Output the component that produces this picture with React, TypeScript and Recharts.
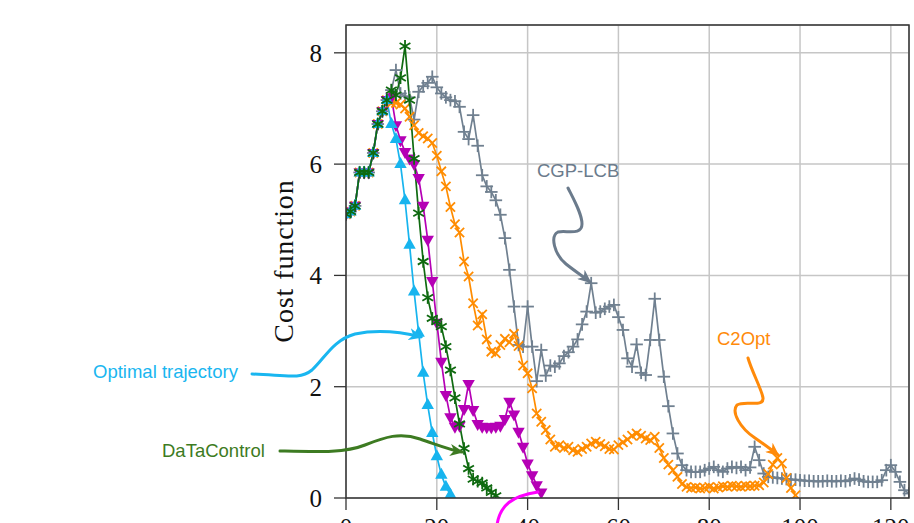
import { LineChart, Line, XAxis, YAxis, CartesianGrid } from "recharts";

const W = 914;
const H = 523;
const PLOT = { left: 346, top: 25, right: 909, bottom: 498 };
const X_MAX = 124;
const Y_MAX = 8.5;

const xTicks = [0, 20, 40, 60, 80, 100, 120];
const yTicks = [0, 2, 4, 6, 8];

// all controllers share the same first steps
const warmup = [5.1, 5.15, 5.25, 5.85, 5.85, 5.85, 6.2, 6.72, 6.95, 7.15];

const optimalTail = [6.72, 6.45, 6.0, 5.35, 4.55, 3.71, 2.97, 2.25, 1.67, 1.17, 0.75, 0.42, 0.2, 0.06];

const dataControlTail = [
  7.33, 7.24, 7.55, 8.12, 7.15, 6.1, 5.12, 4.25, 3.6, 3.23, 3.17, 3.08, 2.72, 2.3, 1.8, 1.33,
  0.89, 0.53, 0.34, 0.3, 0.27, 0.18, 0.1, 0.04,
];

const magentaTail = [
  7.2, 6.7, 6.43, 6.22, 6.1, 6.0, 5.75, 5.25, 4.64, 3.9, 3.15, 2.45, 1.85, 1.45, 1.28, 1.3, 1.6,
  2.05, 1.58, 1.33, 1.28, 1.27, 1.27, 1.28, 1.3, 1.42, 1.73, 1.5, 1.19, 0.92, 0.62, 0.41, 0.23, 0.1,
];

const c2optTail = [
  7.1, 7.1, 7.07, 7.0, 6.85, 6.7, 6.56, 6.5, 6.46, 6.38, 6.15, 5.87, 5.6, 5.23, 4.92, 4.77, 4.25,
  3.98, 3.5, 3.1, 3.3, 2.85, 2.63, 2.6, 2.75, 2.86, 2.8, 2.95, 2.73, 2.38, 2.24, 1.97, 1.52, 1.37,
  1.22, 1.05, 0.92, 0.95, 0.9, 0.92, 0.86, 0.83, 0.88, 0.92, 0.98, 1.01, 0.97, 0.93, 0.88, 0.87,
  0.95, 1.0, 1.05, 1.12, 1.16, 1.12, 1.07, 1.04, 1.1, 0.9, 0.72, 0.6, 0.5, 0.38, 0.25, 0.2, 0.18,
  0.19, 0.17, 0.18, 0.2, 0.17, 0.19, 0.21, 0.2, 0.22, 0.21, 0.2, 0.22, 0.21, 0.22, 0.23, 0.28,
  0.43, 0.6, 0.72, 0.62, 0.36, 0.18, 0.05,
];

const cgpTail = [
  7.33, 7.69, 7.27, 7.22, 7.2, 6.8, 7.3, 7.4, 7.46, 7.57, 7.38, 7.27, 7.2, 7.15, 7.13, 7.03, 6.58,
  6.45, 6.88, 6.33, 5.8, 5.6, 5.5, 5.35, 5.09, 4.67, 4.1, 3.44, 2.75, 2.72, 3.44, 2.72, 2.1, 2.66,
  2.2, 2.38, 2.36, 2.42, 2.55, 2.62, 2.72, 2.85, 3.12, 3.35, 3.86, 3.33, 3.35, 3.4, 3.44, 3.47,
  3.25, 3.02, 2.51, 2.36, 2.76, 2.25, 2.21, 2.84, 3.58, 2.84, 2.18, 1.65, 1.16, 0.8, 0.59, 0.5,
  0.47, 0.47, 0.47, 0.5, 0.53, 0.56, 0.5, 0.47, 0.53, 0.56, 0.54, 0.56, 0.5, 0.55, 0.92, 0.68,
  0.44, 0.38, 0.37, 0.36, 0.35, 0.34, 0.33, 0.33, 0.32, 0.31, 0.31, 0.3, 0.3, 0.3, 0.31, 0.3, 0.3,
  0.31, 0.3, 0.32, 0.35, 0.33, 0.3, 0.29, 0.29, 0.29, 0.32, 0.5, 0.59, 0.47, 0.29, 0.14, 0.08,
];

const toRows = (tail: number[]) =>
  [...warmup, ...tail].map((cost, step) => ({ step, cost }));

const COLORS = {
  optimal: "#17b4ee",
  dataControl: "#0f6a10",
  magenta: "#b500b5",
  c2opt: "#ff8c00",
  cgp: "#708090",
};

type DotProps = { cx?: number; cy?: number; index?: number };

const triUp = (color: string) => (p: DotProps) => {
  const { cx, cy, index } = p;
  if (cx == null || cy == null) return <g key={`tu-${index}`} />;
  return (
    <polygon
      key={`tu-${index}`}
      points={`${cx},${cy - 7} ${cx - 6.2},${cy + 4} ${cx + 6.2},${cy + 4}`}
      fill={color}
    />
  );
};

const triDown = (color: string) => (p: DotProps) => {
  const { cx, cy, index } = p;
  if (cx == null || cy == null) return <g key={`td-${index}`} />;
  return (
    <polygon
      key={`td-${index}`}
      points={`${cx},${cy + 7} ${cx - 6.2},${cy - 4} ${cx + 6.2},${cy - 4}`}
      fill={color}
    />
  );
};

const asterisk = (color: string) => (p: DotProps) => {
  const { cx, cy, index } = p;
  if (cx == null || cy == null) return <g key={`as-${index}`} />;
  const r = 6.2;
  const a = r * Math.cos(Math.PI / 6);
  const b = r * Math.sin(Math.PI / 6);
  return (
    <g key={`as-${index}`} stroke={color} strokeWidth={1.8}>
      <line x1={cx} y1={cy - r} x2={cx} y2={cy + r} />
      <line x1={cx - a} y1={cy - b} x2={cx + a} y2={cy + b} />
      <line x1={cx - a} y1={cy + b} x2={cx + a} y2={cy - b} />
    </g>
  );
};

const cross = (color: string) => (p: DotProps) => {
  const { cx, cy, index } = p;
  if (cx == null || cy == null) return <g key={`cr-${index}`} />;
  const r = 4.6;
  return (
    <g key={`cr-${index}`} stroke={color} strokeWidth={1.8}>
      <line x1={cx - r} y1={cy - r} x2={cx + r} y2={cy + r} />
      <line x1={cx - r} y1={cy + r} x2={cx + r} y2={cy - r} />
    </g>
  );
};

const plus = (color: string) => (p: DotProps) => {
  const { cx, cy, index } = p;
  if (cx == null || cy == null) return <g key={`pl-${index}`} />;
  const r = 6.3;
  return (
    <g key={`pl-${index}`} stroke={color} strokeWidth={1.8}>
      <line x1={cx - r} y1={cy} x2={cx + r} y2={cy} />
      <line x1={cx} y1={cy - r} x2={cx} y2={cy + r} />
    </g>
  );
};

const sansLabel = { fontFamily: "Liberation Sans, Arial, sans-serif", fontSize: 18.5 };

const ArrowHead = ({ id, color }: { id: string; color: string }) => (
  <marker
    id={id}
    viewBox="0 0 14 12"
    refX={12}
    refY={6}
    markerWidth={14}
    markerHeight={12}
    markerUnits="userSpaceOnUse"
    orient="auto"
  >
    <path d="M0,0 L14,6 L0,12 L4,6 z" fill={color} />
  </marker>
);

const Annotations = () => (
  <svg
    width={W}
    height={H}
    style={{ position: "absolute", left: 0, top: 0, pointerEvents: "none" }}
  >
    <defs>
      <ArrowHead id="ah-opt" color="#19b6f0" />
      <ArrowHead id="ah-dtc" color="#3d7b22" />
      <ArrowHead id="ah-cgp" color="#6b7b8c" />
      <ArrowHead id="ah-c2o" color="#ff8a0a" />
    </defs>

    {/* axis box */}
    <rect
      x={PLOT.left}
      y={PLOT.top}
      width={PLOT.right - PLOT.left}
      height={PLOT.bottom - PLOT.top}
      fill="none"
      stroke="#333"
      strokeWidth={1.5}
    />

    <text
      transform="translate(293,261) rotate(-90)"
      textAnchor="middle"
      fontFamily="Liberation Serif, Times New Roman, serif"
      fontSize={28}
      letterSpacing={0.9}
      fill="#111"
    >
      Cost function
    </text>

    <g fill="none" strokeWidth={3} strokeLinecap="round">
      <path
        d="M252,374 C285,375 300,380 312,370 C325,358 333,340 355,334 C380,329 405,333 421,337"
        stroke="#19b6f0"
        markerEnd="url(#ah-opt)"
      />
      <path
        d="M280,451 C320,452 345,453 365,445 C385,437 400,432 420,439 C438,445 450,450 462,452"
        stroke="#3d7b22"
        markerEnd="url(#ah-dtc)"
      />
      <path
        d="M568,188 C574,200 582,214 582,224 C582,236 566,230 558,232 C550,236 554,254 566,264 C576,272 584,277 590,282"
        stroke="#6b7b8c"
        markerEnd="url(#ah-cgp)"
      />
      <path
        d="M748,358 C752,372 762,390 763,398 C764,408 745,400 737,405 C731,412 740,428 755,438 C765,445 772,450 778,455"
        stroke="#ff8a0a"
        markerEnd="url(#ah-c2o)"
      />
      <path d="M497,525 C500,505 512,496 538,492" stroke="#ff00ff" />
    </g>

    <text x={537} y={177} fill="#6b7b8c" {...sansLabel}>
      CGP-LCB
    </text>
    <text x={717} y={345} fill="#ff8a0a" {...sansLabel}>
      C2Opt
    </text>
    <text x={93} y={378} fill="#19b6f0" {...sansLabel}>
      Optimal trajectory
    </text>
    <text x={162} y={457} fill="#3d7b22" {...sansLabel}>
      DaTaControl
    </text>
  </svg>
);

const tickStyle = { fontFamily: "Liberation Serif, Times New Roman, serif", fontSize: 25, fill: "#111" };

export default function App() {
  return (
    <div
      style={{
        position: "absolute",
        left: 0,
        top: 0,
        width: W,
        height: H,
        overflow: "hidden",
        background: "#fff",
      }}
    >
      <LineChart width={W} height={H} margin={{ top: PLOT.top, right: W - PLOT.right, bottom: 0, left: 0 }}>
        <CartesianGrid stroke="#c6c6c6" strokeWidth={1.5} />
        <XAxis
          type="number"
          dataKey="step"
          domain={[0, X_MAX]}
          ticks={xTicks}
          interval={0}
          allowDataOverflow
          height={H - PLOT.bottom}
          axisLine={false}
          tickLine={{ stroke: "#333", strokeWidth: 1.3 }}
          tickSize={12}
          tickMargin={8}
          tick={tickStyle}
        />
        <YAxis
          type="number"
          domain={[0, Y_MAX]}
          ticks={yTicks}
          interval={0}
          allowDataOverflow
          width={PLOT.left}
          axisLine={false}
          tickLine={{ stroke: "#333", strokeWidth: 1.3 }}
          tickSize={12}
          tickMargin={12}
          tick={tickStyle}
        />
        <Line
          data={toRows(cgpTail)}
          dataKey="cost"
          stroke={COLORS.cgp}
          strokeWidth={1.7}
          dot={plus(COLORS.cgp)}
          isAnimationActive={false}
        />
        <Line
          data={toRows(c2optTail)}
          dataKey="cost"
          stroke={COLORS.c2opt}
          strokeWidth={1.7}
          dot={cross(COLORS.c2opt)}
          isAnimationActive={false}
        />
        <Line
          data={toRows(magentaTail)}
          dataKey="cost"
          stroke={COLORS.magenta}
          strokeWidth={1.7}
          dot={triDown(COLORS.magenta)}
          isAnimationActive={false}
        />
        <Line
          data={toRows(optimalTail)}
          dataKey="cost"
          stroke={COLORS.optimal}
          strokeWidth={1.7}
          dot={triUp(COLORS.optimal)}
          isAnimationActive={false}
        />
        <Line
          data={toRows(dataControlTail)}
          dataKey="cost"
          stroke={COLORS.dataControl}
          strokeWidth={1.7}
          dot={asterisk(COLORS.dataControl)}
          isAnimationActive={false}
        />
      </LineChart>
      <Annotations />
    </div>
  );
}
